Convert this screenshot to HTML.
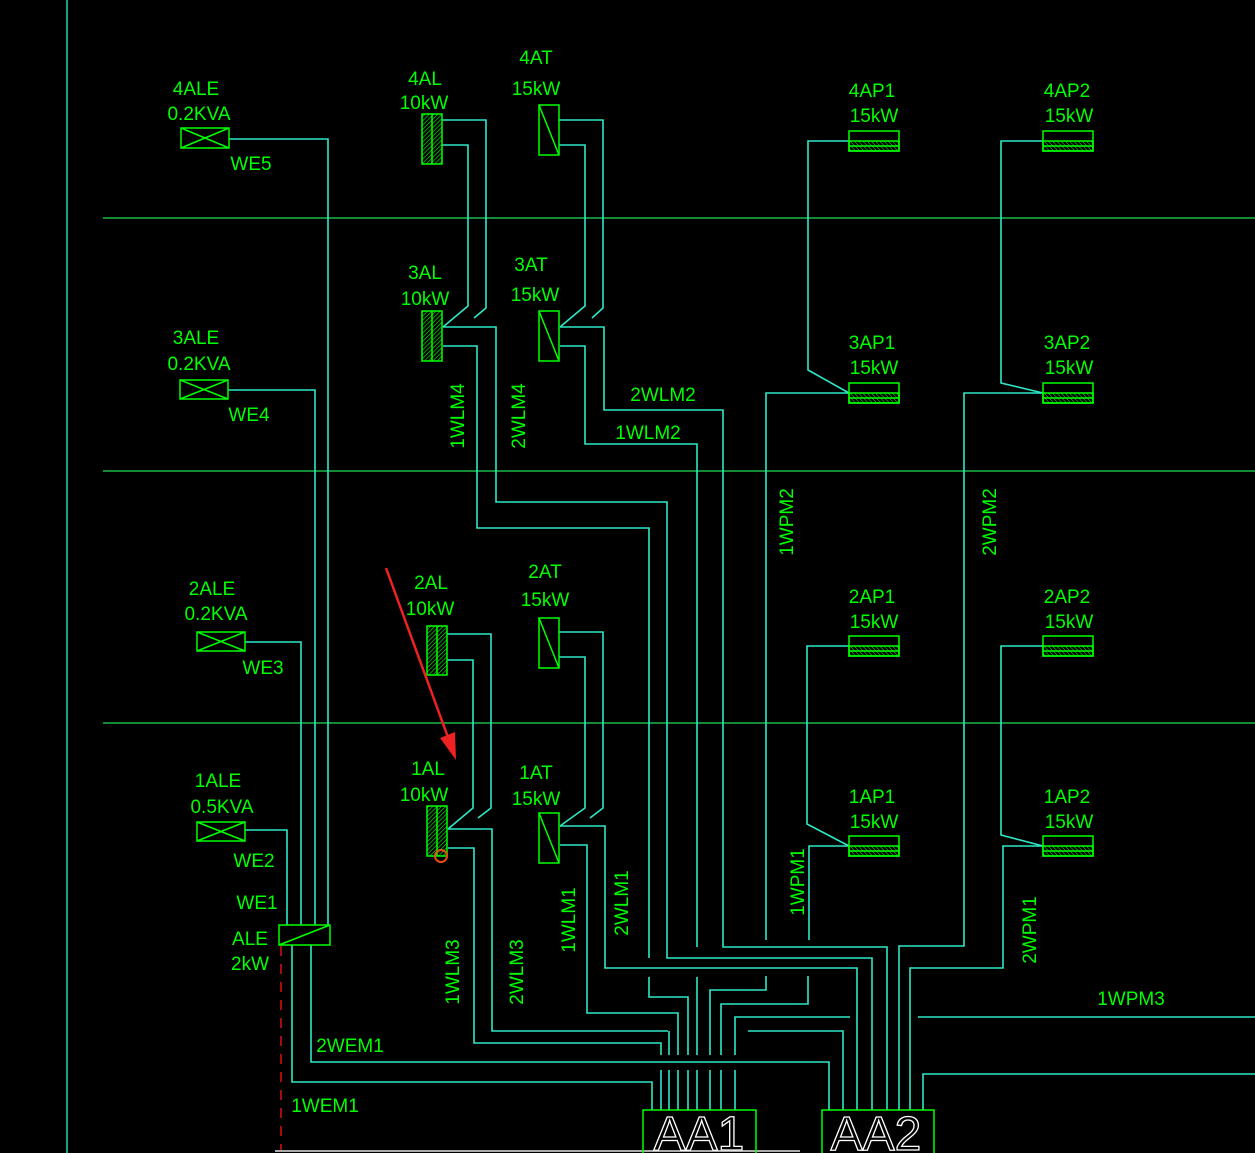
<!DOCTYPE html>
<html><head><meta charset="utf-8"><style>
html,body{margin:0;padding:0;background:#000;}
svg{display:block}
text{font-family:"Liberation Sans Narrow","Liberation Sans",sans-serif;fill:#00ff00;font-size:19px;}
</style></head><body>
<svg width="1255" height="1153" viewBox="0 0 1255 1153" xmlns="http://www.w3.org/2000/svg">
<defs>
<pattern id="h" width="3" height="3" patternUnits="userSpaceOnUse" patternTransform="rotate(45)">
<line x1="0" y1="0" x2="0" y2="3" stroke="#00ff00" stroke-width="1.2"/></pattern>
<pattern id="h2" width="3" height="3" patternUnits="userSpaceOnUse" patternTransform="rotate(-45)">
<line x1="0" y1="0" x2="0" y2="3" stroke="#00ff00" stroke-width="1"/></pattern>
</defs>
<rect width="1255" height="1153" fill="#000"/>
<line x1="67" y1="0" x2="67" y2="1153" stroke="#1fd8a8" stroke-width="1.5"/>
<g stroke="#22dd55" stroke-width="1.3">
<line x1="103" y1="218" x2="1255" y2="218"/>
<line x1="103" y1="471" x2="1255" y2="471"/>
<line x1="103" y1="723" x2="1255" y2="723"/>
</g>
<line x1="275" y1="1151" x2="800" y2="1151" stroke="#aaa" stroke-width="2"/>

<g fill="none" stroke="#2ee8c8" stroke-width="1.6">
<polyline points="229,139 328,139 328,925"/>
<polyline points="228,390 315,390 315,925"/>
<polyline points="245,642 301,642 301,925"/>
<polyline points="245,830 287,830 287,925"/>
<polyline points="292,945 292,1082 652,1082 652,1110"/>
<polyline points="311,945 311,1062 829,1062 829,1110"/>
<polyline points="442,120 486,120 486,308 474,318"/>
<polyline points="442,145 468,145 468,306 443,327"/>
<polyline points="559,120 603,120 603,308 592,318"/>
<polyline points="559,145 585,145 585,306 560,327"/>
<polyline points="443,327 496,327 496,502 667,502 667,958 872,958 872,1110"/>
<polyline points="443,346 477,346 477,528 649,528 649,958"/>
<polyline points="560,327 604,327 604,410 723,410 723,947 887,947 887,1110"/>
<polyline points="560,346 585,346 585,444 697,444 697,947"/>
<polyline points="447,634 491,634 491,808 478,818"/>
<polyline points="447,660 473,660 473,808 448,829"/>
<polyline points="559,632 603,632 603,808 590,818"/>
<polyline points="559,657 585,657 585,808 560,826"/>
<polyline points="448,829 492,829 492,1031 668,1031"/>
<polyline points="748,1031 843,1031 843,1110"/>
<polyline points="448,848 474,848 474,1043 661,1043 661,1055"/>
<polyline points="560,826 605,826 605,968 857,968 857,1110"/>
<polyline points="560,845 587,845 587,1013 678,1013 678,1055"/>
<polyline points="649,977 649,997 688,997 688,1055"/>
<polyline points="697,977 697,1055"/>
<polyline points="766,976 766,990 710,990 710,1055"/>
<polyline points="808,976 808,1004 721,1004 721,1055"/>
<polyline points="850,1017 735,1017 735,1055"/>
<polyline points="669,1031 669,1055"/>
<line x1="661" y1="1070" x2="661" y2="1110"/><line x1="669" y1="1070" x2="669" y2="1110"/>
<line x1="678" y1="1070" x2="678" y2="1110"/><line x1="688" y1="1070" x2="688" y2="1110"/>
<line x1="697" y1="1070" x2="697" y2="1110"/><line x1="710" y1="1070" x2="710" y2="1110"/>
<line x1="721" y1="1070" x2="721" y2="1110"/><line x1="735" y1="1070" x2="735" y2="1110"/>
<polyline points="849,141 808,141 808,370 849,393"/>
<polyline points="849,393 766,393 766,940"/>
<polyline points="849,646 807,646 807,824 849,846"/>
<polyline points="849,846 809,846 809,940"/>
<polyline points="1043,141 1001,141 1001,383 1043,393"/>
<polyline points="1043,393 964,393 964,946 899,946 899,1110"/>
<polyline points="1043,646 1001,646 1001,835 1043,846"/>
<polyline points="1043,846 1003,846 1003,968 910,968 910,1110"/>
<polyline points="918,1017 1255,1017"/>
<polyline points="923,1110 923,1074 1255,1074"/>
</g>
<line x1="281" y1="946" x2="281" y2="1150" stroke="#dd1111" stroke-width="1.5" stroke-dasharray="10,8"/>

<g fill="none" stroke="#00ff00" stroke-width="1.5">
<rect x="181" y="128" width="48" height="20"/><path d="M181,128 L229,148 M181,148 L229,128"/>
<rect x="180" y="380" width="48" height="19"/><path d="M180,380 L228,399 M180,399 L228,380"/>
<rect x="197" y="632" width="48" height="19"/><path d="M197,632 L245,651 M197,651 L245,632"/>
<rect x="197" y="822" width="48" height="19"/><path d="M197,822 L245,841 M197,841 L245,822"/>
<rect x="279" y="925" width="51" height="20"/><path d="M279,945 L330,925"/>
<rect x="539" y="105" width="20" height="50"/><path d="M539,105 L559,155"/>
<rect x="539" y="311" width="20" height="50"/><path d="M539,311 L559,361"/>
<rect x="539" y="618" width="20" height="50"/><path d="M539,618 L559,668"/>
<rect x="539" y="813" width="20" height="50"/><path d="M539,813 L559,863"/>
</g>
<g stroke="#00ff00" stroke-width="1.5" fill="url(#h)">
<rect x="422" y="114" width="20" height="50"/><line x1="432" y1="114" x2="432" y2="164"/>
<rect x="422" y="311" width="20" height="50"/><line x1="432" y1="311" x2="432" y2="361"/>
<rect x="427" y="626" width="20" height="49"/><line x1="437" y1="626" x2="437" y2="675"/>
<rect x="427" y="806" width="20" height="50"/><line x1="437" y1="806" x2="437" y2="856"/>
</g>
<g stroke="#00ff00" stroke-width="1.5">
<g id="ap">
<rect x="849" y="131" width="50" height="20" fill="none"/><rect x="849" y="141" width="50" height="10" fill="url(#h2)"/><line x1="849" y1="146" x2="899" y2="146"/>
</g>
<use href="#ap" y="252"/><use href="#ap" y="505"/><use href="#ap" y="705"/>
<use href="#ap" x="194"/><use href="#ap" x="194" y="252"/><use href="#ap" x="194" y="505"/><use href="#ap" x="194" y="705"/>
</g>
<g fill="none" stroke="#00ff00" stroke-width="1.5">
<rect x="643" y="1110" width="113" height="45"/>
<rect x="822" y="1110" width="112" height="45"/>
</g>
<text x="699" y="1150" text-anchor="middle" style="fill:none;stroke:#fff;stroke-width:1.3;font-size:48px;font-family:'Liberation Sans',sans-serif">AA1</text>
<text x="876" y="1150" text-anchor="middle" style="fill:none;stroke:#fff;stroke-width:1.3;font-size:48px;font-family:'Liberation Sans',sans-serif">AA2</text>

<line x1="386" y1="568" x2="449" y2="740" stroke="#ee2222" stroke-width="2.5"/>
<polygon points="456,760 440,738 455,732" fill="#ee2222"/>
<circle cx="441" cy="856" r="6" fill="none" stroke="#e05010" stroke-width="2"/>

<g text-anchor="middle">
<text x="196" y="95">4ALE</text><text x="199" y="120">0.2KVA</text>
<text x="196" y="344">3ALE</text><text x="199" y="370">0.2KVA</text>
<text x="212" y="595">2ALE</text><text x="216" y="620">0.2KVA</text>
<text x="218" y="787">1ALE</text><text x="222" y="813">0.5KVA</text>
<text x="251" y="170">WE5</text><text x="249" y="421">WE4</text><text x="263" y="674">WE3</text>
<text x="254" y="867">WE2</text><text x="257" y="909">WE1</text>
<text x="250" y="945">ALE</text><text x="250" y="970">2kW</text>
<text x="425" y="85">4AL</text><text x="424" y="109">10kW</text>
<text x="536" y="64">4AT</text><text x="536" y="95">15kW</text>
<text x="425" y="279">3AL</text><text x="425" y="305">10kW</text>
<text x="531" y="271">3AT</text><text x="535" y="301">15kW</text>
<text x="431" y="589">2AL</text><text x="430" y="615">10kW</text>
<text x="545" y="578">2AT</text><text x="545" y="606">15kW</text>
<text x="428" y="775">1AL</text><text x="424" y="801">10kW</text>
<text x="536" y="779">1AT</text><text x="536" y="805">15kW</text>
<text x="872" y="97">4AP1</text><text x="874" y="122">15kW</text>
<text x="872" y="349">3AP1</text><text x="874" y="374">15kW</text>
<text x="872" y="603">2AP1</text><text x="874" y="628">15kW</text>
<text x="872" y="803">1AP1</text><text x="874" y="828">15kW</text>
<text x="1067" y="97">4AP2</text><text x="1069" y="122">15kW</text>
<text x="1067" y="349">3AP2</text><text x="1069" y="374">15kW</text>
<text x="1067" y="603">2AP2</text><text x="1069" y="628">15kW</text>
<text x="1067" y="803">1AP2</text><text x="1069" y="828">15kW</text>
<text x="663" y="401">2WLM2</text><text x="648" y="439">1WLM2</text>
<text x="350" y="1052">2WEM1</text><text x="325" y="1112">1WEM1</text>
<text x="1131" y="1005">1WPM3</text>
<text transform="translate(464,416) rotate(-90)">1WLM4</text>
<text transform="translate(525,416) rotate(-90)">2WLM4</text>
<text transform="translate(793,522) rotate(-90)">1WPM2</text>
<text transform="translate(996,522) rotate(-90)">2WPM2</text>
<text transform="translate(804,882) rotate(-90)">1WPM1</text>
<text transform="translate(1036,930) rotate(-90)">2WPM1</text>
<text transform="translate(459,972) rotate(-90)">1WLM3</text>
<text transform="translate(523,972) rotate(-90)">2WLM3</text>
<text transform="translate(575,920) rotate(-90)">1WLM1</text>
<text transform="translate(628,903) rotate(-90)">2WLM1</text>
</g>
</svg>
</body></html>
